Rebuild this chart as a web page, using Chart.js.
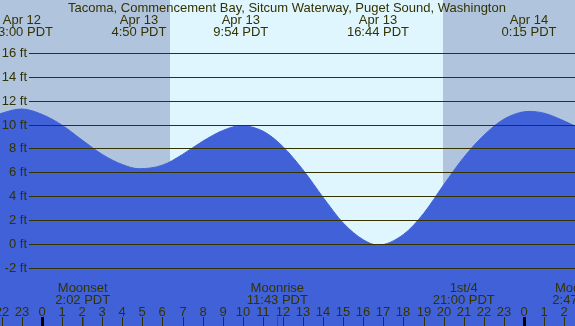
<!DOCTYPE html>
<html>
<head>
<meta charset="utf-8">
<script src="https://cdn.jsdelivr.net/npm/chart.js@4"></script>
<style>
  body { margin: 0; background: #fff; }
  canvas { display: block; }
</style>
</head>
<body>
<canvas id="canvasmare" width="575" height="326"></canvas>
<script>
// dados da mare (horas desde Apr 13 0:00 PDT, altura em ft)
var tideHours = [-3, -2, -1, 0, 1, 2, 3, 4, 4.83, 6, 7, 8, 9, 9.9, 11, 12, 13, 14, 15, 16, 16.73, 18, 19, 20, 21, 22, 23, 24.25, 25, 26, 27];
var tideFeet = [10.3, 10.95, 11.3, 10.85, 9.95, 8.7, 7.5, 6.65, 6.3, 6.6, 7.5, 8.6, 9.5, 9.9, 9.45, 8.15, 6.2, 3.9, 1.75, 0.35, -0.1, 0.8, 2.55, 4.95, 7.25, 9.1, 10.45, 11.1, 10.95, 10.3, 9.5];

// marcas de alta/baixa no topo
var peakHours = [-1, 4.83, 9.9, 16.73, 24.25];
var peakDates = ['Apr 12', 'Apr 13', 'Apr 13', 'Apr 13', 'Apr 14'];
var peakTimes = ['23:00 PDT', '4:50 PDT', '9:54 PDT', '16:44 PDT', '0:15 PDT'];

// lua (embaixo)
var moonHours = [2.03, 11.72, 21, 26.78];
var moonNames = ['Moonset', 'Moonrise', '1st/4', 'Moonset'];
var moonTimes = ['2:02 PDT', '11:43 PDT', '21:00 PDT', '2:47 PDT'];

// dia claro
var sunrise = 6.37;
var sunset = 19.97;

var feetTicks = [-2, 0, 2, 4, 6, 8, 10, 12, 14, 16];
var hourTicks = [-2, -1, 0, 1, 2, 3, 4, 5, 6, 7, 8, 9, 10, 11, 12, 13, 14, 15, 16, 17, 18, 19, 20, 21, 22, 23, 24, 25, 26];

var title = 'Tacoma, Commencement Bay, Sitcum Waterway, Puget Sound, Washington';

var font = '13px "Liberation Sans", Arial, sans-serif';
var textColor = '#333300';

var points = tideHours.map(function (h, i) {
  return { x: h, y: tideFeet[i] };
});

var desenho = {
  id: 'desenho',
  beforeDatasetsDraw: function (chart) {
    var ctx = chart.ctx;
    var a = chart.chartArea;
    var x = chart.scales.x;
    ctx.save();
    ctx.fillStyle = '#b0c4de';
    ctx.fillRect(a.left, a.top, a.right - a.left, a.bottom - a.top);
    var x1 = Math.round(x.getPixelForValue(sunrise));
    var x2 = Math.round(x.getPixelForValue(sunset));
    ctx.fillStyle = '#dff6ff';
    ctx.fillRect(x1, a.top, x2 - x1, a.bottom - a.top);
    ctx.restore();
  },
  afterDatasetsDraw: function (chart) {
    var ctx = chart.ctx;
    var a = chart.chartArea;
    var x = chart.scales.x;
    var y = chart.scales.y;
    ctx.save();
    ctx.font = font;
    ctx.fillStyle = textColor;

    // linhas horizontais
    ctx.strokeStyle = '#333300';
    ctx.lineWidth = 1;
    ctx.textAlign = 'right';
    ctx.textBaseline = 'middle';
    feetTicks.forEach(function (f) {
      var py = Math.round(y.getPixelForValue(f)) + 0.5;
      ctx.beginPath();
      ctx.moveTo(29, py);
      ctx.lineTo(a.right, py);
      ctx.stroke();
      ctx.fillText(f + ' ft', 27, py);
    });

    // titulo e picos
    ctx.textAlign = 'center';
    ctx.textBaseline = 'alphabetic';
    ctx.fillText(title, 287, 12);
    peakHours.forEach(function (h, i) {
      var px = x.getPixelForValue(h);
      ctx.fillText(peakDates[i], px, 24);
      ctx.fillText(peakTimes[i], px, 36);
    });

    // lua
    moonHours.forEach(function (h, i) {
      var px = x.getPixelForValue(h);
      ctx.fillText(moonNames[i], px, 292);
      ctx.fillText(moonTimes[i], px, 304);
      ctx.fillStyle = 'red';
      ctx.fillRect(Math.round(px), 317, 1, 9);
      ctx.fillStyle = textColor;
    });

    // horas
    hourTicks.forEach(function (h) {
      var px = Math.round(x.getPixelForValue(h));
      var label = ((h % 24) + 24) % 24;
      ctx.fillStyle = textColor;
      ctx.fillText(String(label), px, 316);
      if (label == 0) {
        ctx.fillStyle = '#000';
        ctx.fillRect(px - 1, 317, 3, 9);
      } else {
        ctx.fillRect(px, 317, 1, 9);
      }
    });
    ctx.restore();
  }
};

var ctx = document.getElementById('canvasmare').getContext('2d');
var myChart = new Chart(ctx, {
  type: 'line',
  data: {
    datasets: [{
      label: 'Mare',
      data: points,
      backgroundColor: '#4161d8',
      borderColor: '#4161d8',
      borderWidth: 1,
      pointRadius: 0,
      fill: 'start',
      cubicInterpolationMode: 'monotone'
    }]
  },
  options: {
    responsive: false,
    animation: false,
    layout: { padding: 0 },
    plugins: {
      legend: { display: false },
      tooltip: { enabled: false }
    },
    scales: {
      x: { type: 'linear', min: -2.09, max: 26.54, display: false },
      y: { min: -6.87, max: 20.43, display: false }
    }
  },
  plugins: [desenho]
});
</script>
</body>
</html>
